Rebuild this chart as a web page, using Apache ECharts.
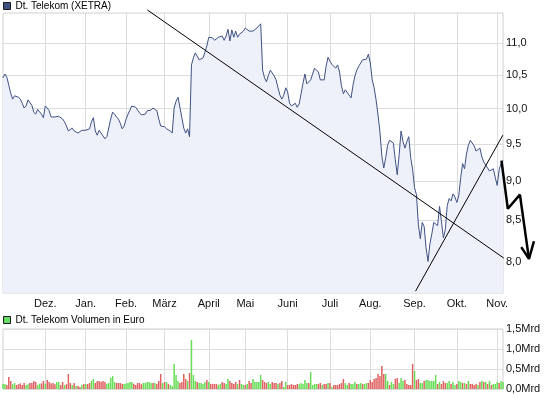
<!DOCTYPE html>
<html>
<head>
<meta charset="utf-8">
<script src="https://cdn.jsdelivr.net/npm/echarts@6/dist/echarts.min.js"></script>
<style>
  html, body { margin: 0; padding: 0; background: #fff; }
  #chart { width: 545px; height: 398px; }
</style>
</head>
<body>
<div id="chart"></div>
<script>
// XETRA trading days, Nov 2010 - Nov 2011
const firstDay = '2010-11-01';
const lastDay = '2011-11-04';
const holidays = ['2010-12-24', '2010-12-31', '2011-04-22', '2011-04-25'];
const monthNames = ['Jan.', 'Feb.', 'März', 'April', 'Mai', 'Juni', 'Juli', 'Aug.', 'Sep.', 'Okt.', 'Nov.', 'Dez.'];
const priceTicks = [8.0, 8.5, 9.0, 9.5, 10.0, 10.5, 11.0];

// closing prices in EUR, one per trading day
const prices = [
  10.46, 10.52, 10.47, 10.35, 10.23, 10.14, 10.19, 10.19, 10.17, 10.14,
  10.08, 10.01, 10.04, 10.13, 10.11, 10.05, 9.95, 9.92, 9.99, 9.98,
  9.92, 9.87, 10.04, 10.01, 9.97, 9.88, 9.87, 9.88, 9.89, 9.89,
  9.88, 9.85, 9.81, 9.75, 9.68, 9.68, 9.72, 9.68, 9.69, 9.65,
  9.65, 9.69, 9.68, 9.69, 9.67, 9.71, 9.81, 9.87, 9.68, 9.62,
  9.69, 9.68, 9.61, 9.57, 9.60, 9.62, 9.85, 9.95, 9.92, 9.88,
  9.85, 9.79, 9.71, 9.75, 9.85, 9.92, 9.98, 10.04, 10.05, 10.02,
  9.98, 9.94, 9.91, 9.89, 9.92, 9.97, 9.97, 9.98, 10.01, 10.00,
  9.97, 9.85, 9.75, 9.74, 9.74, 9.71, 9.71, 9.68, 9.65, 10.01,
  10.11, 10.17, 10.16, 9.87, 9.72, 9.65, 9.71, 9.60, 10.66, 10.77,
  10.85, 10.85, 10.74, 10.74, 10.77, 10.86, 10.96, 11.10, 11.12, 11.09,
  11.05, 11.05, 11.10, 11.12, 11.12, 11.05, 11.12, 11.23, 11.04, 11.22,
  11.10, 11.20, 11.10, 11.15, 11.12, 11.20, 11.25, 11.27, 11.20, 11.20,
  11.20, 11.18, 11.25, 11.28, 11.32, 10.58, 10.46, 10.40, 10.50, 10.58,
  10.58, 10.49, 10.43, 10.31, 10.20, 10.14, 10.20, 10.31, 10.25, 10.08,
  10.04, 10.05, 10.08, 10.02, 10.07, 10.22, 10.38, 10.52, 10.37, 10.38,
  10.43, 10.52, 10.61, 10.64, 10.55, 10.43, 10.44, 10.43, 10.64, 10.78,
  10.72, 10.67, 10.66, 10.61, 10.66, 10.55, 10.34, 10.22, 10.28, 10.29,
  10.20, 10.16, 10.35, 10.49, 10.58, 10.64, 10.69, 10.74, 10.72, 10.75,
  10.83, 10.69, 10.43, 10.31, 10.13, 9.91, 9.67, 9.33, 9.17, 9.31,
  9.48, 9.55, 9.57, 9.51, 9.28, 9.08, 9.35, 9.68, 9.53, 9.44,
  9.53, 9.60, 9.31, 9.15, 8.91, 8.82, 8.44, 8.27, 8.47, 8.42,
  8.16, 8.00, 8.21, 8.33, 8.47, 8.49, 8.43, 8.67, 8.48, 8.28,
  8.38, 8.68, 8.77, 8.74, 8.83, 8.79, 8.72, 8.81, 9.04, 9.23,
  9.16, 9.36, 9.48, 9.55, 9.53, 9.47, 9.40, 9.38, 9.44, 9.32,
  9.25, 9.21, 9.21, 9.13, 9.15, 9.16, 9.04, 8.94, 9.15, 9.23,
  9.27
];

// daily turnover in Mrd EUR
const volumes = [
  0.125, 0.125, 0.10, 0.30, 0.20, 0.12, 0.15, 0.10, 0.12, 0.14,
  0.10, 0.15, 0.10, 0.12, 0.15, 0.15, 0.20, 0.175, 0.10, 0.13,
  0.14, 0.20, 0.13, 0.225, 0.175, 0.14, 0.15, 0.12, 0.175, 0.175,
  0.10, 0.175, 0.10, 0.12, 0.375, 0.15, 0.10, 0.15, 0.075, 0.075,
  0.05, 0.10, 0.125, 0.125, 0.125, 0.15, 0.20, 0.25, 0.15, 0.20,
  0.20, 0.18, 0.20, 0.175, 0.13, 0.15, 0.28, 0.325, 0.175, 0.15,
  0.15, 0.15, 0.125, 0.125, 0.14, 0.15, 0.175, 0.175, 0.13, 0.10,
  0.15, 0.15, 0.12, 0.15, 0.15, 0.175, 0.175, 0.15, 0.15, 0.15,
  0.125, 0.20, 0.375, 0.15, 0.175, 0.175, 0.13, 0.10, 0.07, 0.625,
  0.35, 0.20, 0.15, 0.175, 0.375, 0.25, 0.20, 0.40, 1.225, 0.35,
  0.20, 0.175, 0.15, 0.15, 0.125, 0.175, 0.225, 0.175, 0.125, 0.125,
  0.125, 0.125, 0.10, 0.125, 0.175, 0.15, 0.125, 0.25, 0.20, 0.15,
  0.125, 0.175, 0.125, 0.225, 0.125, 0.10, 0.10, 0.125, 0.20, 0.15,
  0.25, 0.175, 0.175, 0.175, 0.35, 0.225, 0.175, 0.15, 0.175, 0.125,
  0.175, 0.15, 0.15, 0.125, 0.15, 0.20, 0.05, 0.175, 0.10, 0.10,
  0.125, 0.10, 0.10, 0.125, 0.12, 0.15, 0.125, 0.225, 0.15, 0.15,
  0.425, 0.10, 0.125, 0.125, 0.125, 0.15, 0.10, 0.125, 0.125, 0.15,
  0.15, 0.05, 0.10, 0.10, 0.10, 0.125, 0.15, 0.25, 0.15, 0.10,
  0.15, 0.125, 0.125, 0.175, 0.125, 0.125, 0.15, 0.125, 0.125, 0.15,
  0.15, 0.225, 0.175, 0.25, 0.275, 0.375, 0.325, 0.575, 0.375, 0.375,
  0.20, 0.10, 0.175, 0.125, 0.25, 0.275, 0.15, 0.275, 0.20, 0.225,
  0.125, 0.10, 0.10, 0.625, 0.45, 0.225, 0.25, 0.15, 0.15, 0.20,
  0.225, 0.225, 0.20, 0.20, 0.20, 0.35, 0.125, 0.175, 0.125, 0.20,
  0.15, 0.15, 0.20, 0.125, 0.175, 0.10, 0.125, 0.20, 0.175, 0.15,
  0.15, 0.125, 0.20, 0.125, 0.125, 0.10, 0.125, 0.10, 0.175, 0.20,
  0.175, 0.175, 0.125, 0.20, 0.10, 0.125, 0.125, 0.175, 0.15, 0.20,
  0.175
];

// g = up day (green bar), r = down day (red bar)
const volumeDir =
  'ggrrrggrrr' + 'rrggrrrrgg' + 'rrgrrrrrgg' + 'rrgrrrgrgr' + 'rgrgrrggrr' +
  'rrrrgggggr' + 'rrrgggggrr' + 'rrrgggggrg' + 'rrrgrgrggg' + 'ggrrrrgrgg' +
  'grggggrgrr' + 'rrggrrggrr' + 'rrgrggrgrr' + 'gggggrrrgg' + 'rrrgrrggrr' +
  'rrrrgggggr' + 'ggggrrgrrg' + 'rgrrrrrrgg' + 'rgggrggrgg' + 'rrrrrrrrrg' +
  'grggrrgggr' + 'rrrrgrrggr' + 'ggggggrgrr' + 'rggrggrggr' + 'grgrrrrgrg' +
  'rgrgrgggrg' + 'g';

// hand drawn lines: [trading day index, price]
const trendDown = [[75.1, 11.55], [260.4, 8.04]];
const trendUp = [[214.5, 7.66], [259.9, 9.62]];
const arrowPath = [[259.2, 9.27], [262.5, 8.64], [268.8, 8.82], [273.5, 8.03]];
const arrowHead = [[269.5, 8.17], [273.5, 8.03], [276.1, 8.24]];

const days = [];
for (let t = Date.parse(firstDay); t <= Date.parse(lastDay); t += 864e5) {
  const d = new Date(t);
  const s = d.toISOString().slice(0, 10);
  const wd = d.getUTCDay();
  if (wd === 0 || wd === 6 || holidays.includes(s)) continue;
  days.push(s);
}

const isMonthStart = (i) => i > 0 && days[i].slice(5, 7) !== days[i - 1].slice(5, 7);
const monthLabel = (v) => monthNames[+v.slice(5, 7) - 1];
const fmt = (v) => v.toFixed(1).replace('.', ',');

const font = 'Arial, "Liberation Sans", sans-serif';
const gridColor = '#dcdcdc';
const chartW = 545, plotLeft = 3, plotRight = 42;
const plotW = chartW - plotLeft - plotRight;
// annotation layer spans to the right edge of the canvas, same day scale
const annotMax = (days.length - 1) * (chartW - plotLeft) / plotW;

const chart = echarts.init(document.getElementById('chart'), null, { renderer: 'canvas' });

const handLine = (data, width) => ({
  type: 'line',
  xAxisIndex: 2,
  yAxisIndex: 2,
  data: data,
  showSymbol: false,
  symbol: 'none',
  clip: false,
  silent: true,
  z: 5,
  lineStyle: { color: '#000', width: width }
});

const option = {
  animation: false,
  textStyle: { fontFamily: font },
  legend: [
    {
      left: 3, top: 1, padding: 0, itemWidth: 7, itemHeight: 7, selectedMode: false,
      textStyle: { fontSize: 10, color: '#000', fontFamily: font },
      data: [{ name: 'Dt. Telekom (XETRA)', icon: 'rect',
        itemStyle: { color: '#3f5183', borderColor: '#1a1a1a', borderWidth: 1 } }]
    },
    {
      left: 3, top: 315, padding: 0, itemWidth: 7, itemHeight: 7, selectedMode: false,
      textStyle: { fontSize: 10, color: '#000', fontFamily: font },
      data: [{ name: 'Dt. Telekom Volumen in Euro', icon: 'rect',
        itemStyle: { color: '#66dd66', borderColor: '#1a1a1a', borderWidth: 1 } }]
    }
  ],
  grid: [
    { left: plotLeft, right: plotRight, top: 13, height: 280, show: true, borderColor: '#d0d0d0', borderWidth: 1, outerBoundsMode: 'none' },
    { left: plotLeft, right: plotRight, top: 329, height: 60, show: true, borderColor: '#d0d0d0', borderWidth: 1, outerBoundsMode: 'none' },
    { left: plotLeft, right: 0, top: 13, height: 280, show: false, outerBoundsMode: 'none' }
  ],
  xAxis: [
    {
      type: 'category', gridIndex: 0, data: days, boundaryGap: false,
      axisLine: { show: false }, axisTick: { show: false },
      axisLabel: { interval: isMonthStart, formatter: monthLabel, margin: 5, fontSize: 11, color: '#111', fontFamily: font },
      splitLine: { show: true, interval: isMonthStart, lineStyle: { color: gridColor, width: 1 } }
    },
    {
      type: 'category', gridIndex: 1, data: days, boundaryGap: false,
      axisLine: { show: false }, axisTick: { show: false }, axisLabel: { show: false },
      splitLine: { show: true, interval: isMonthStart, lineStyle: { color: gridColor, width: 1 } }
    },
    { type: 'value', gridIndex: 2, min: 0, max: annotMax, show: false, splitLine: { show: false } }
  ],
  yAxis: [
    {
      type: 'log', gridIndex: 0, position: 'right', min: 7.64, max: 11.5, logBase: 10,
      axisLine: { show: false },
      axisTick: { show: false, customValues: priceTicks },
      axisLabel: { customValues: priceTicks, formatter: fmt, margin: 3, fontSize: 11, color: '#111', fontFamily: font },
      splitLine: { show: true, lineStyle: { color: gridColor, width: 1 } }
    },
    {
      type: 'value', gridIndex: 1, position: 'right', min: 0, max: 1.5, interval: 0.5,
      axisLine: { show: false }, axisTick: { show: false },
      axisLabel: { formatter: (v) => fmt(v) + 'Mrd', margin: 3, fontSize: 11, color: '#111', fontFamily: font },
      splitLine: { show: true, lineStyle: { color: gridColor, width: 1 } }
    },
    { type: 'log', gridIndex: 2, min: 7.64, max: 11.5, logBase: 10, show: false, splitLine: { show: false } }
  ],
  series: [
    {
      name: 'Dt. Telekom (XETRA)',
      type: 'line',
      xAxisIndex: 0, yAxisIndex: 0,
      data: prices,
      showSymbol: false, symbol: 'none',
      lineStyle: { color: '#3f5183', width: 1 },
      itemStyle: { color: '#3f5183' },
      areaStyle: { color: '#eef1fa', opacity: 1, origin: 'start' }
    },
    {
      name: 'Dt. Telekom Volumen in Euro',
      type: 'bar',
      xAxisIndex: 1, yAxisIndex: 1,
      data: volumes,
      barWidth: 1.5,
      itemStyle: {
        color: (p) => volumeDir[p.dataIndex] === 'g' ? '#66dd55' : '#e06262'
      }
    },
    handLine(trendDown, 1),
    handLine(trendUp, 1),
    handLine(arrowPath, 2.5),
    handLine(arrowHead, 2.5)
  ]
};

chart.setOption(option);
</script>
</body>
</html>
